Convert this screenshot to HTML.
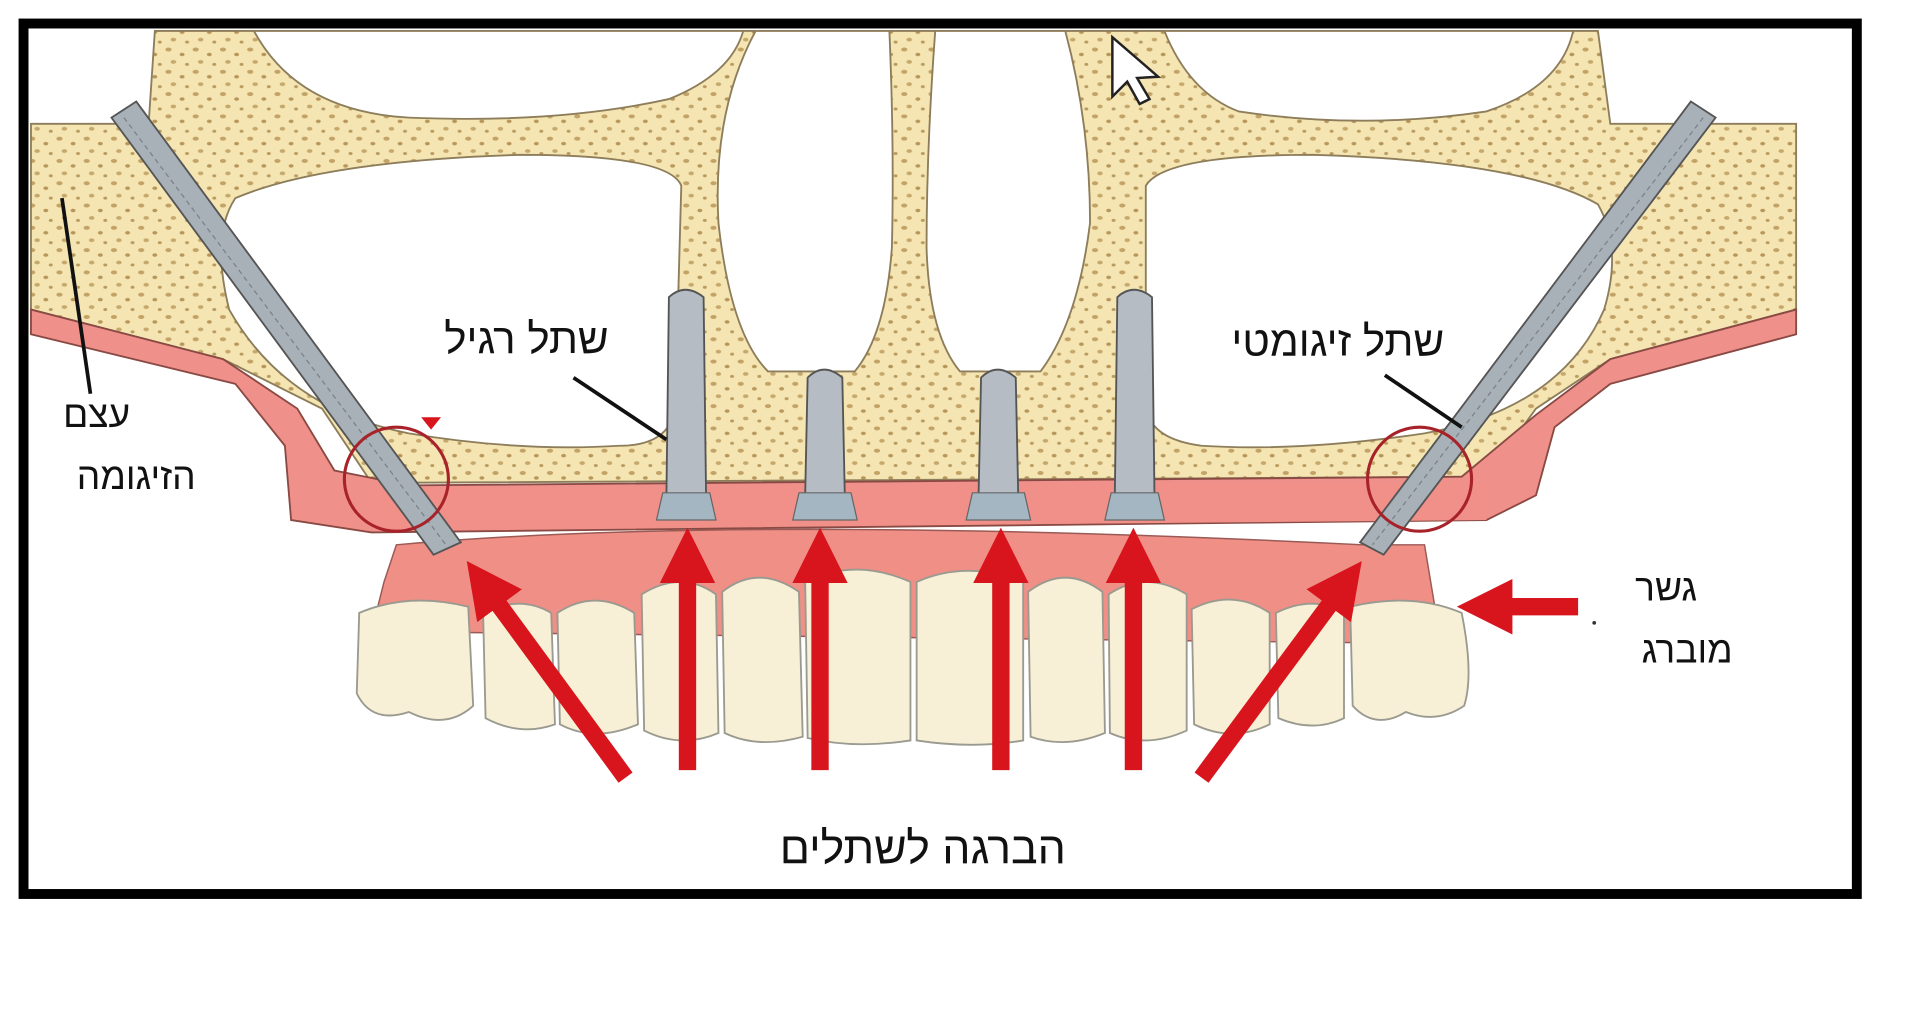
<!DOCTYPE html>
<html><head><meta charset="utf-8"><style>html,body{margin:0;padding:0;background:#fff;width:1920px;height:1024px;overflow:hidden}svg{display:block}</style></head>
<body>
<svg width="1920" height="1024" viewBox="0 0 1550 827" preserveAspectRatio="none" xmlns="http://www.w3.org/2000/svg">
<defs>
<pattern id="dots" width="22" height="18" patternUnits="userSpaceOnUse">
<rect width="22" height="18" fill="#f4e5b2"/>
<ellipse cx="4" cy="4" rx="2.5" ry="1.6" fill="#c3a266"/>
<ellipse cx="15" cy="8" rx="2" ry="1.4" fill="#b8965a"/>
<ellipse cx="8" cy="14" rx="2.2" ry="1.5" fill="#c6a86c"/>
<ellipse cx="19" cy="16" rx="1.6" ry="1.2" fill="#b89a5e"/>
</pattern>
<marker id="ah" viewBox="0 0 10 10" refX="2" refY="5" markerWidth="3.2" markerHeight="3.2" orient="auto"><path d="M0,0 L10,5 L0,10 z" fill="#d8141c"/></marker>
</defs>
<rect width="1550" height="827" fill="#fff"/>
<!-- bone -->
<path d="M25,100 L120,100 L125,25 L1290,25 L1300,100 L1450,100 L1450,250 L1300,290 L1240,330 L1200,385 L300,390 L260,330 L180,290 L25,250 Z" fill="url(#dots)" stroke="#8d7d5a" stroke-width="1.5"/>
<!-- white cavities -->
<path d="M205,25 Q240,90 330,95 Q450,100 540,80 Q590,60 600,25 Z" fill="#fff" stroke="#8d7d5a" stroke-width="1.5"/>
<path d="M190,160 Q260,130 420,125 Q540,125 550,150 L545,330 Q540,360 500,360 Q420,365 330,350 Q230,330 185,250 Q170,190 190,160 Z" fill="#fff" stroke="#8d7d5a" stroke-width="1.5"/>
<path d="M610,25 L718,25 Q722,120 720,200 Q715,270 690,300 L620,300 Q590,270 580,180 Q575,90 610,25 Z" fill="#fff" stroke="#8d7d5a" stroke-width="1.5"/>
<path d="M755,25 L860,25 Q880,100 880,180 Q870,260 840,300 L775,300 Q750,270 748,200 Q748,120 755,25 Z" fill="#fff" stroke="#8d7d5a" stroke-width="1.5"/>
<path d="M940,25 Q960,75 1000,90 Q1100,105 1200,90 Q1260,70 1270,25 Z" fill="#fff" stroke="#8d7d5a" stroke-width="1.5"/>
<path d="M925,150 Q940,125 1060,125 Q1230,130 1290,165 Q1310,200 1295,250 Q1260,330 1150,350 Q1050,365 970,360 Q930,355 925,330 Z" fill="#fff" stroke="#8d7d5a" stroke-width="1.5"/>
<!-- upper gum -->
<path d="M25,250 L180,290 L240,330 L270,380 L330,392 L1180,385 L1240,335 L1300,290 L1450,250 L1450,270 L1300,310 L1255,345 L1240,400 L1200,420 L300,430 L235,420 L230,360 L190,310 L25,270 Z" fill="#f0908a" stroke="#8a4a44" stroke-width="1.5"/>
<path d="M300,395 L1200,390 L1200,420 L300,428 Z" fill="#f09088"/>
<!-- lower denture pink -->
<path d="M320,440 Q600,415 1100,440 L1150,440 L1160,500 L1180,520 L300,510 L310,470 Z" fill="#ef8f86" stroke="#9b5a55" stroke-width="1.2"/>
<!-- teeth -->
<g fill="#f8f0d6" stroke="#9a9a90" stroke-width="1.5">
<path d="M290,495 Q330,478 378,490 L382,570 Q360,590 330,575 Q300,585 288,560 Z"/>
<path d="M390,495 Q420,480 445,495 L448,585 Q420,595 392,580 Z"/>
<path d="M450,495 Q480,475 512,495 L515,585 Q480,600 452,585 Z"/>
<path d="M518,480 Q550,460 578,480 L580,592 Q550,605 520,590 Z"/>
<path d="M583,478 Q612,455 645,478 L648,595 Q612,605 585,592 Z"/>
<path d="M650,470 Q690,450 735,470 L735,598 Q690,605 652,596 Z"/>
<path d="M740,470 Q780,452 826,470 L826,598 Q785,605 740,598 Z"/>
<path d="M830,478 Q860,455 890,478 L892,592 Q860,605 832,595 Z"/>
<path d="M895,480 Q925,460 958,480 L958,590 Q925,605 896,592 Z"/>
<path d="M962,492 Q995,475 1025,495 L1025,585 Q995,600 964,585 Z"/>
<path d="M1030,495 Q1060,480 1085,495 L1085,580 Q1060,592 1032,580 Z"/>
<path d="M1090,490 Q1140,478 1180,495 Q1190,545 1182,570 Q1160,585 1135,575 Q1110,590 1092,570 Z"/>
</g>
<!-- zygomatic implants -->
<g stroke="#555" stroke-width="1.5">
<path d="M90,95 L110,82 L372,438 L350,448 Z" fill="#a9b1b8"/>
<path d="M1365,82 L1385,95 L1117,448 L1098,438 Z" fill="#a9b1b8"/>
</g>
<g stroke="#7a8088" stroke-width="1" stroke-dasharray="4 3">
<line x1="100" y1="95" x2="360" y2="440"/><line x1="1375" y1="95" x2="1108" y2="440"/>
</g>
<!-- regular implants -->
<g stroke="#555" stroke-width="1.5" fill="#b5bcc3">
<path d="M540,240 Q553,228 568,240 L570,400 L538,400 Z"/>
<path d="M652,305 Q665,292 680,305 L682,400 L650,400 Z"/>
<path d="M792,305 Q805,292 820,305 L822,400 L790,400 Z"/>
<path d="M902,240 Q915,228 930,240 L932,400 L900,400 Z"/>
</g>
<g fill="#a3b6c2" stroke="#666" stroke-width="1">
<path d="M535,398 L573,398 L578,420 L530,420 Z"/>
<path d="M645,398 L687,398 L692,420 L640,420 Z"/>
<path d="M785,398 L827,398 L832,420 L780,420 Z"/>
<path d="M897,398 L935,398 L940,420 L892,420 Z"/>
</g>
<!-- circles -->
<circle cx="320" cy="387" r="42" fill="none" stroke="#a8222a" stroke-width="2.5"/>
<circle cx="1146" cy="387" r="42" fill="none" stroke="#a8222a" stroke-width="2.5"/>
<path d="M340,337 L356,337 L348,347 Z" fill="#d8141c"/>
<!-- red arrows -->
<g stroke="#d8141c" stroke-width="14" marker-end="url(#ah)">
<line x1="505" y1="628" x2="398" y2="482"/>
<line x1="555" y1="622" x2="555" y2="462"/>
<line x1="662" y1="622" x2="662" y2="462"/>
<line x1="808" y1="622" x2="808" y2="462"/>
<line x1="915" y1="622" x2="915" y2="462"/>
<line x1="970" y1="628" x2="1078" y2="482"/>
<line x1="1274" y1="490" x2="1212" y2="490"/>
</g>
<!-- leader lines -->
<g stroke="#111" stroke-width="3">
<line x1="463" y1="305" x2="538" y2="355"/>
<line x1="1118" y1="303" x2="1180" y2="345"/>
<line x1="50" y1="160" x2="73" y2="318"/>
</g>
<circle cx="1287" cy="503" r="1.5" fill="#333"/>
<!-- cursor -->
<path d="M898,30 L898,78 L910,66 L920,84 L928,80 L918,63 L935,62 Z" fill="#fff" stroke="#222" stroke-width="2"/>
<!-- labels -->
<g font-family="'Liberation Sans','DejaVu Sans',sans-serif" fill="#111" text-anchor="middle">
<text x="425" y="285" font-size="34">שתל רגיל</text>
<text x="1080" y="287" font-size="34">שתל זיגומטי</text>
<text x="78" y="345" font-size="30">עצם</text>
<text x="110" y="395" font-size="30">הזיגומה</text>
<text x="1345" y="485" font-size="30">גשר</text>
<text x="1362" y="535" font-size="30">מוברג</text>
<text x="745" y="697" font-size="36">הברגה לשתלים</text>
</g>
<!-- frame -->
<rect x="19" y="19" width="1480" height="703" fill="none" stroke="#000" stroke-width="8"/>
</svg>
</body></html>
